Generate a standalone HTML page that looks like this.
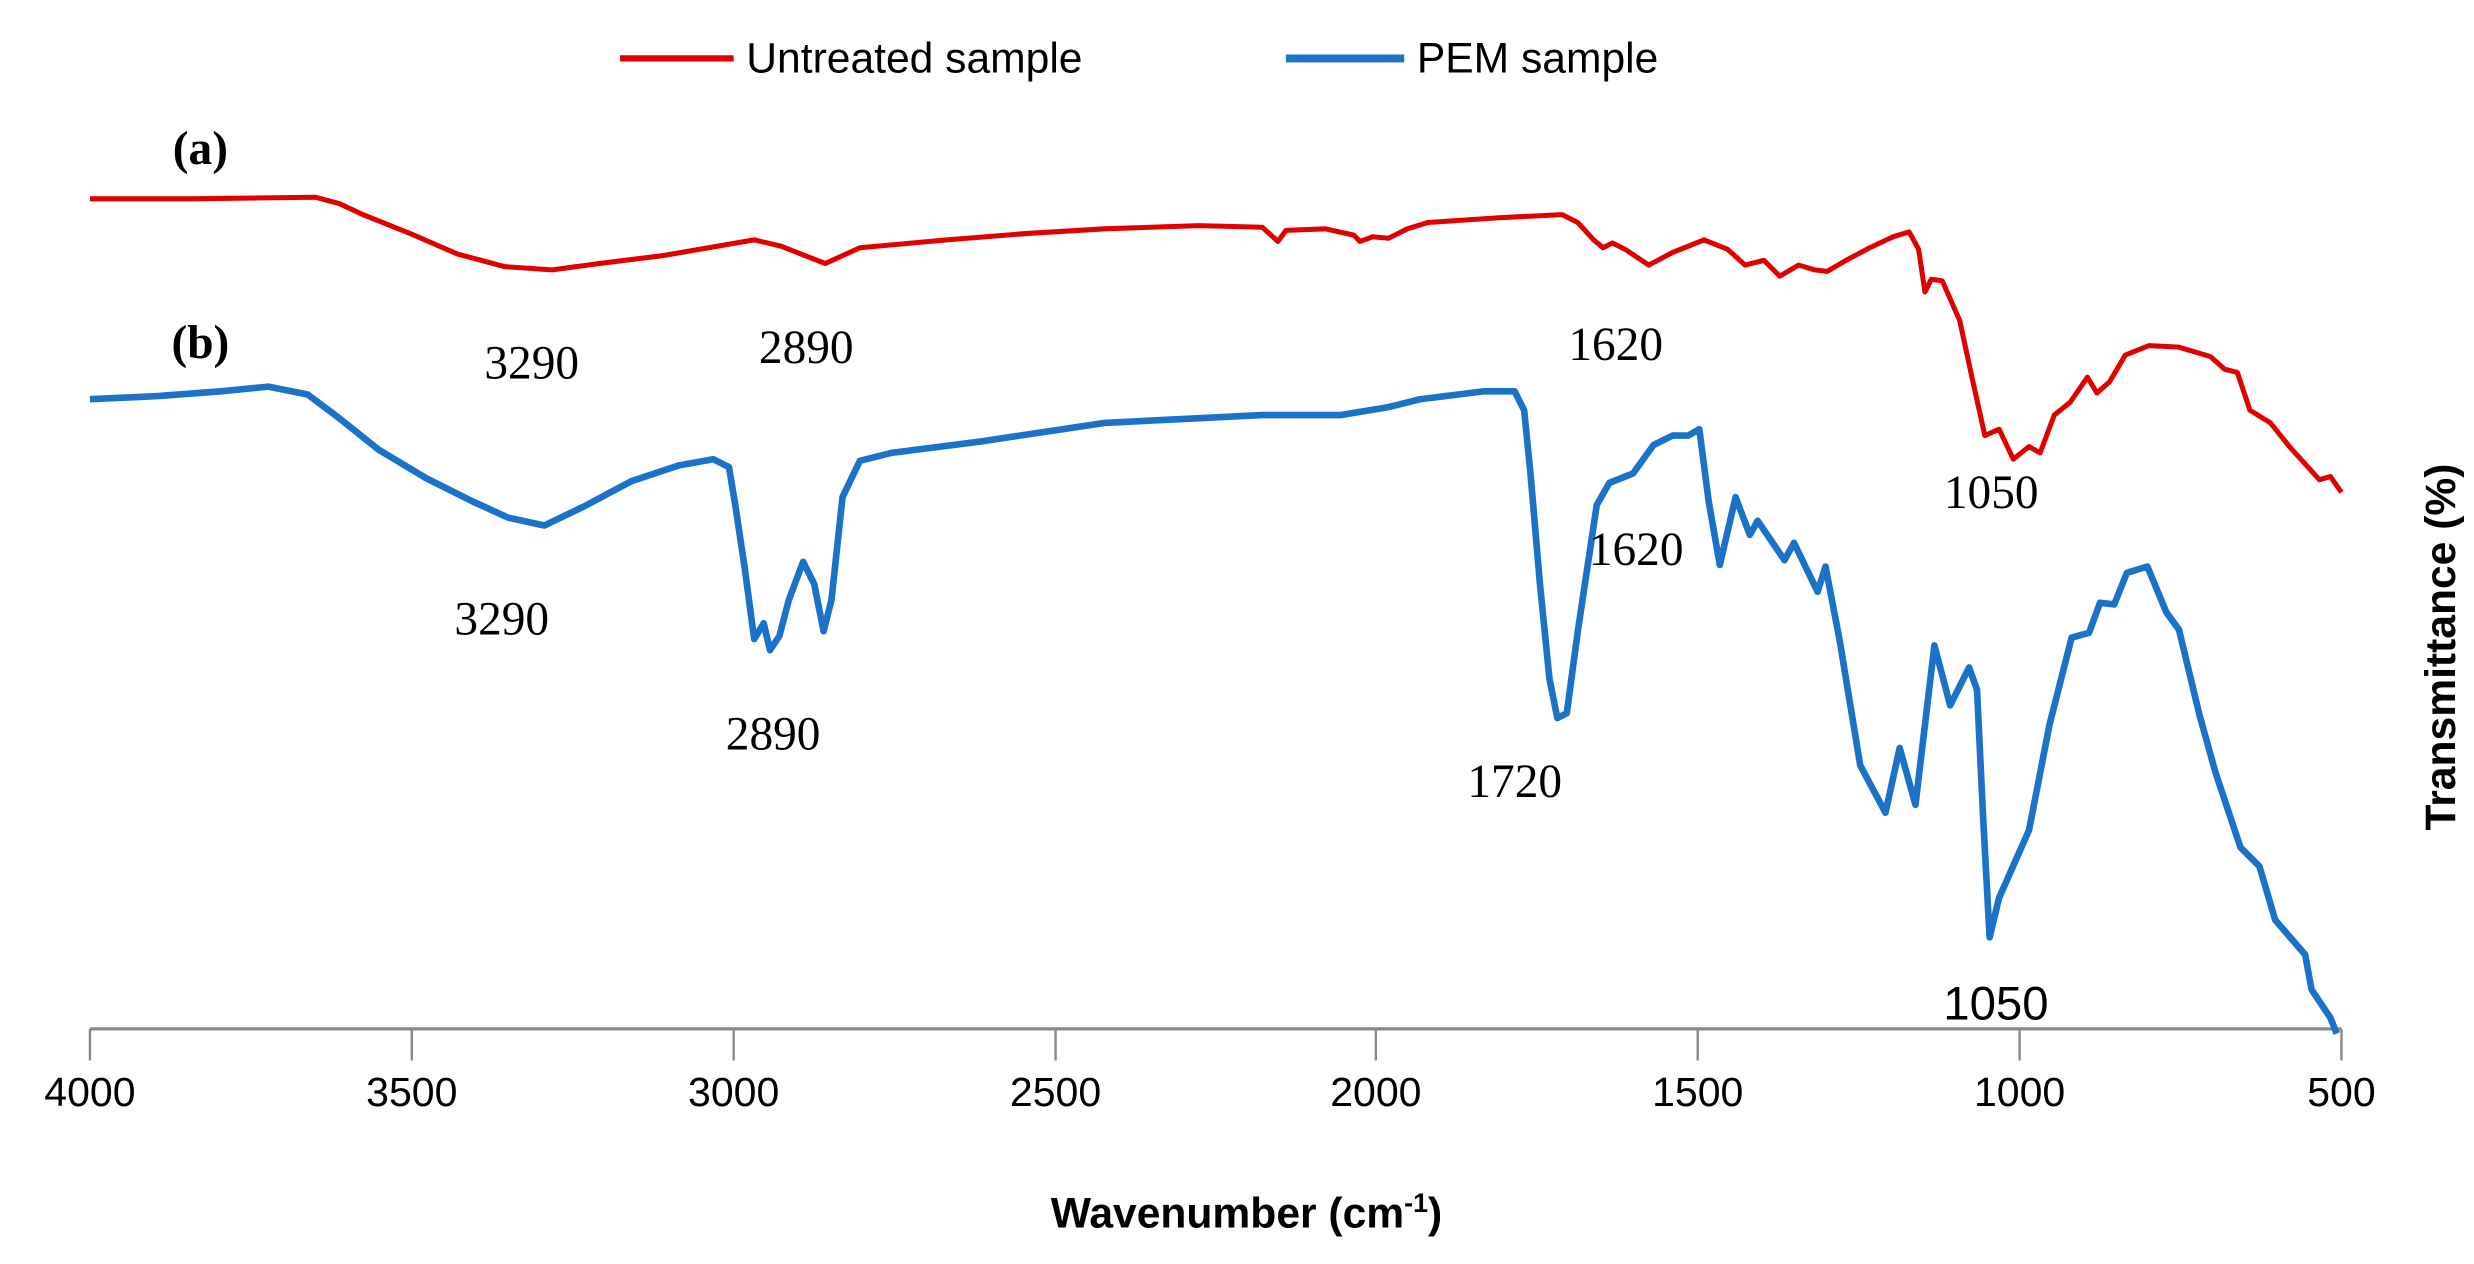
<!DOCTYPE html>
<html><head><meta charset="utf-8"><style>
html,body{margin:0;padding:0;background:#fff;}
svg{display:block;}
</style></head><body>
<svg width="2474" height="1264" viewBox="0 0 1568 801" preserveAspectRatio="none" xmlns="http://www.w3.org/2000/svg">
<rect width="1568" height="801" fill="#fff"/>
<line x1="393" y1="37" x2="465" y2="37" stroke="#e00000" stroke-width="4"/>
<text x="473" y="46" font-family="Liberation Sans, sans-serif" font-size="27" fill="#000">Untreated sample</text>
<line x1="815" y1="37" x2="890" y2="37" stroke="#1a73c9" stroke-width="5"/>
<text x="898" y="46" font-family="Liberation Sans, sans-serif" font-size="27" fill="#000">PEM sample</text>
<line x1="57" y1="652" x2="1484" y2="652" stroke="#888" stroke-width="2"/>
<g stroke="#888" stroke-width="1.5">
<line x1="57" y1="652" x2="57" y2="672"/><line x1="261" y1="652" x2="261" y2="672"/><line x1="465" y1="652" x2="465" y2="672"/><line x1="669" y1="652" x2="669" y2="672"/><line x1="872" y1="652" x2="872" y2="672"/><line x1="1076" y1="652" x2="1076" y2="672"/><line x1="1280" y1="652" x2="1280" y2="672"/><line x1="1484" y1="652" x2="1484" y2="672"/>
</g>
<g font-family="Liberation Sans, sans-serif" font-size="26" fill="#000" text-anchor="middle">
<text x="57" y="701">4000</text><text x="261" y="701">3500</text><text x="465" y="701">3000</text><text x="669" y="701">2500</text><text x="872" y="701">2000</text><text x="1076" y="701">1500</text><text x="1280" y="701">1000</text><text x="1484" y="701">500</text>
</g>
<text x="790" y="778" font-family="Liberation Sans, sans-serif" font-size="27" font-weight="bold" text-anchor="middle">Wavenumber (cm<tspan font-size="17" dy="-10">-1</tspan><tspan dy="10">)</tspan></text>
<text transform="translate(1556,410) rotate(-90)" font-family="Liberation Sans, sans-serif" font-size="27" font-weight="bold" text-anchor="middle">Transmittance (%)</text>
<polyline fill="none" stroke="#e00000" stroke-width="3.2" stroke-linejoin="round" points="57,126 120,126 200,125 215,129 230,136 260,148 290,161 320,169 350,171 380,167 420,162 455,156 478,152 495,156 523,167 545,157 600,152 650,148 700,145 760,143 800,144 810,153 815,146 840,145 858,149 862,153 870,150 880,151 892,145 905,141 950,138 990,136 1000,141 1010,152 1016,157 1022,154 1030,158 1045,168 1060,160 1080,152 1095,158 1106,168 1118,165 1128,175 1140,168 1150,171 1158,172 1170,165 1185,157 1200,150 1210,147 1216,158 1220,185 1224,177 1231,178 1242,203 1250,240 1258,276 1267,272 1276,291 1286,283 1293,287 1302,263 1312,255 1323,239 1329,249 1337,242 1347,225 1362,219 1381,220 1401,226 1410,234 1418,236 1426,260 1439,268 1451,283 1470,304 1477,302 1484,312"/>
<polyline fill="none" stroke="#1a73c9" stroke-width="4.2" stroke-linejoin="round" points="57,253 100,251 140,248 170,245 195,250 215,265 240,285 270,303 300,318 322,328 345,333 370,321 400,305 430,295 452,291 462,296 466,320 472,360 478,405 484,395 488,412 494,403 500,380 509,356 516,370 522,400 527,380 534,315 545,292 565,287 620,280 700,268 760,265 800,263 850,263 880,258 900,253 940,248 960,248 966,260 970,300 976,370 982,430 987,455 993,452 1000,400 1006,360 1012,320 1020,306 1035,300 1048,282 1060,276 1070,276 1077,272 1083,318 1090,358 1100,315 1109,339 1114,330 1131,355 1137,344 1152,375 1157,359 1166,406 1179,485 1187,500 1195,515 1204,474 1214,510 1226,409 1236,447 1248,423 1253,437 1257,520 1261,594 1267,569 1286,526 1299,459 1313,404 1324,401 1331,382 1340,383 1348,363 1361,359 1373,388 1381,399 1394,453 1404,489 1420,537 1432,549 1442,583 1461,605 1465,627 1477,645 1481,655"/>
<g font-family="Liberation Serif, serif" font-size="30" fill="#000" text-anchor="middle">
<text x="127" y="104" font-weight="bold">(a)</text>
<text x="127" y="227" font-weight="bold">(b)</text>
<text x="337" y="240">3290</text>
<text x="511" y="230">2890</text>
<text x="1024" y="228">1620</text>
<text x="1262" y="322">1050</text>
<text x="318" y="402">3290</text>
<text x="490" y="475">2890</text>
<text x="960" y="505">1720</text>
<text x="1037" y="358">1620</text>
</g>
<text x="1265" y="646" font-family="Liberation Sans, sans-serif" font-size="30" text-anchor="middle">1050</text>
</svg>
</body></html>
